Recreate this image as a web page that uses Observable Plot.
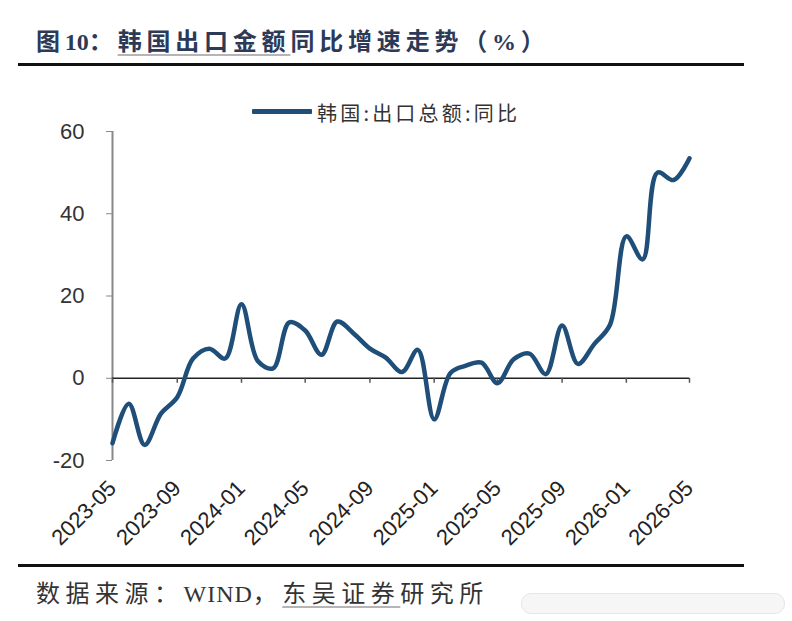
<!DOCTYPE html>
<html>
<head>
<meta charset="utf-8">
<script src="https://cdn.jsdelivr.net/npm/d3@7"></script>
<script src="https://cdn.jsdelivr.net/npm/@observablehq/plot@0.6"></script>
<style>
  html, body { margin: 0; padding: 0; background: #fff; }
  #page { position: relative; width: 792px; height: 621px; overflow: hidden; }
  #chart { position: absolute; left: 0; top: 0; }
  .title {
    position: absolute; left: 36px; top: 22px; white-space: nowrap;
    font-family: "Liberation Serif", "Noto Sans CJK SC", serif;
    font-weight: 700; font-size: 24px; letter-spacing: 4.8px; color: #2d3a57;
  }
  .num { letter-spacing: 0; }
  .mark { text-decoration: underline; text-decoration-color: #b5b5b5;
          text-decoration-thickness: 2px; text-underline-offset: 4px; }
  .rule { position: absolute; left: 18px; width: 726px; height: 3px; background: #111; }
  .legend-line { position: absolute; left: 252px; top: 109px; width: 60px; height: 5px;
                 background: #1f4e79; border-radius: 1px; }
  .legend-text { position: absolute; left: 317px; top: 98px; white-space: nowrap;
                 font-family: "Noto Sans CJK SC", sans-serif; font-size: 20px;
                 letter-spacing: 3.2px; color: #333; }
  .source {
    position: absolute; left: 36px; top: 574px; white-space: nowrap;
    font-family: "Liberation Serif", "Noto Sans CJK SC", serif;
    font-size: 24px; letter-spacing: 5.5px; color: #333;
  }
  .latin { letter-spacing: 1px; }
  .pill { position: absolute; left: 521px; top: 593px; width: 262px; height: 19px;
          border-radius: 10px; border: 1px solid #e6e6e6; background: #f6f6f6; }
</style>
</head>
<body>
<div id="page">
  <div id="chart"></div>
  <div class="title">图<span class="num">10</span>：<span class="mark">韩国出口金额</span>同比增速走势（%）</div>
  <div class="rule" style="top:63px"></div>
  <div class="legend-line"></div>
  <div class="legend-text">韩国:出口总额:同比</div>
  <div class="rule" style="top:564px"></div>
  <div class="source">数据来源：<span class="latin">WIND</span>，<span class="mark">东吴证券</span>研究所</div>
  <div class="pill"></div>
</div>
<script>
// Monthly year-on-year growth of Korean total exports (%)
const months = [
  "2023-05","2023-06","2023-07","2023-08","2023-09","2023-10","2023-11","2023-12",
  "2024-01","2024-02","2024-03","2024-04","2024-05","2024-06","2024-07","2024-08",
  "2024-09","2024-10","2024-11","2024-12","2025-01","2025-02","2025-03","2025-04",
  "2025-05","2025-06","2025-07","2025-08","2025-09","2025-10","2025-11","2025-12",
  "2026-01","2026-02","2026-03","2026-04","2026-05"
];
const yoy = [
  -15.8, -6.2, -16.2, -8.6, -4.6, 4.8, 7.2, 4.8,
  18.0, 4.2, 2.4, 13.6, 11.6, 5.7, 13.8, 10.9,
  7.2, 5.0, 1.5, 6.9, -10.0, 1.3, 3.0, 3.8,
  -1.2, 4.6, 6.0, 1.0, 12.8, 3.5, 8.3, 13.0,
  34.5, 28.9, 50.0, 48.2, 53.5
];
const xTickLabels = ["2023-05","2023-09","2024-01","2024-05","2024-09",
                     "2025-01","2025-05","2025-09","2026-01","2026-05"];
const yTicks = [-20, 0, 20, 40, 60];

const parseMonth = d3.utcParse("%Y-%m");
const data = months.map((m, i) => ({date: parseMonth(m), value: yoy[i]}));
const xTicks = xTickLabels.map(parseMonth);

const chart = Plot.plot({
  width: 792,
  height: 621,
  marginTop: 131,
  marginBottom: 161,
  marginLeft: 112,
  marginRight: 103,
  style: {fontFamily: "Liberation Sans, Arial, sans-serif", color: "#333", background: "transparent"},
  x: {type: "utc", domain: [data[0].date, data[data.length - 1].date]},
  y: {domain: [-20, 60]},
  marks: [
    // month labels along the bottom edge
    Plot.axisX({ticks: xTicks, tickSize: 0, tickPadding: 24, tickRotate: -45,
                tickFormat: d3.utcFormat("%Y-%m"), fontSize: 22, label: null, fill: "#222"}),
    // value axis
    Plot.axisY({ticks: yTicks, tickSize: 6, tickPadding: 22, fontSize: 22,
                tickFormat: d => `${d}`, label: null, stroke: "#888", fill: "#333"}),
    Plot.ruleX([data[0].date], {y1: -20, y2: 60, stroke: "#888", strokeWidth: 2}),
    // zero baseline with tick marks hanging below
    Plot.ruleY([0], {stroke: "#222", strokeWidth: 1.6}),
    Plot.ruleX(xTicks, {x: d => d, y1: 0, y2: 0, insetBottom: -5, stroke: "#555", strokeWidth: 1.5}),
    Plot.line(data, {x: "date", y: "value", curve: "catmull-rom",
                     stroke: "#1f4e79", strokeWidth: 4.5, strokeLinejoin: "round", strokeLinecap: "round"})
  ]
});
document.getElementById("chart").appendChild(chart);
</script>
</body>
</html>
